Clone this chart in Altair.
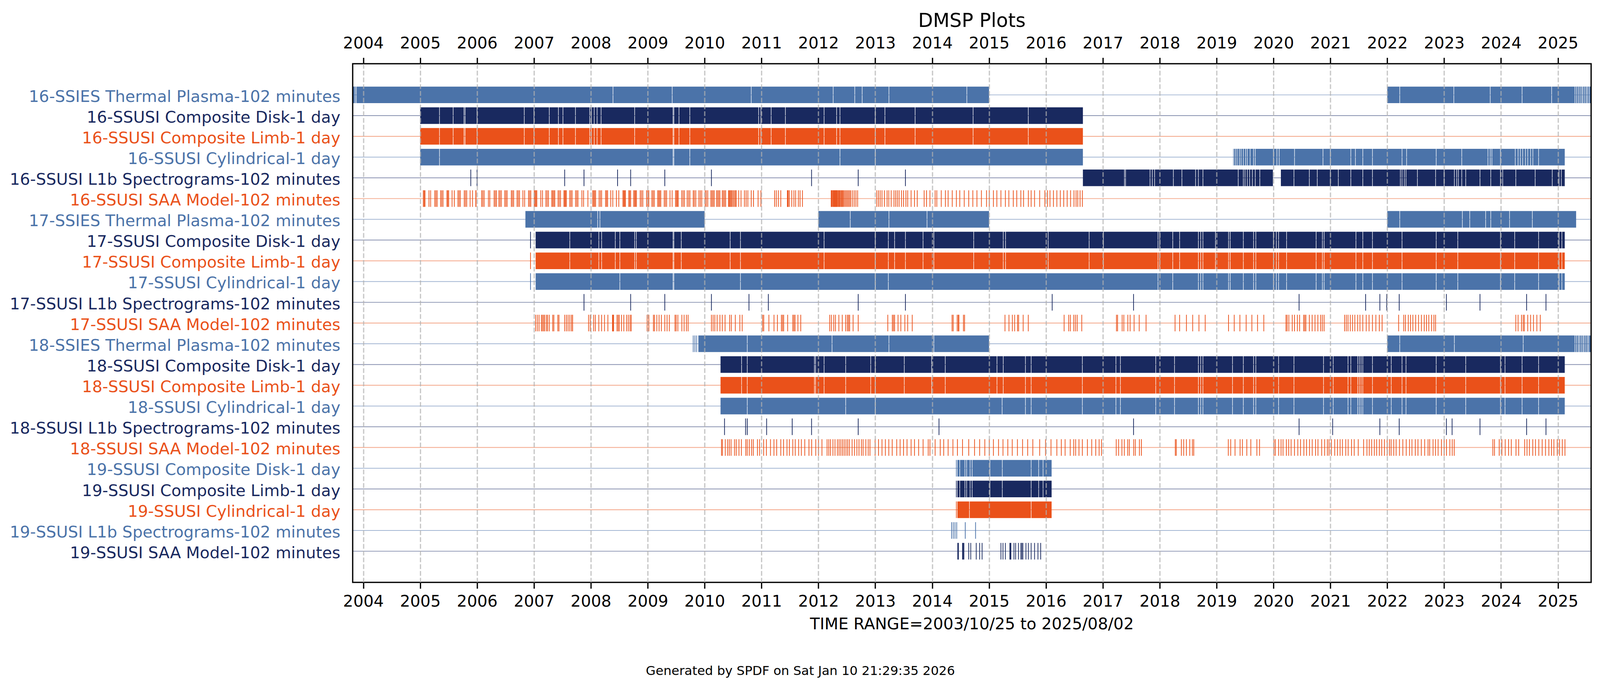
import altair as alt
import pandas as pd

# ---------------- data (decimal years) ----------------
X_START, X_END = 2003.8137, 2025.5836
YEARS = list(range(2004, 2026))

ROW_NAMES = [
    "16-SSIES Thermal Plasma-102 minutes",
    "16-SSUSI Composite Disk-1 day",
    "16-SSUSI Composite Limb-1 day",
    "16-SSUSI Cylindrical-1 day",
    "16-SSUSI L1b Spectrograms-102 minutes",
    "16-SSUSI SAA Model-102 minutes",
    "17-SSIES Thermal Plasma-102 minutes",
    "17-SSUSI Composite Disk-1 day",
    "17-SSUSI Composite Limb-1 day",
    "17-SSUSI Cylindrical-1 day",
    "17-SSUSI L1b Spectrograms-102 minutes",
    "17-SSUSI SAA Model-102 minutes",
    "18-SSIES Thermal Plasma-102 minutes",
    "18-SSUSI Composite Disk-1 day",
    "18-SSUSI Composite Limb-1 day",
    "18-SSUSI Cylindrical-1 day",
    "18-SSUSI L1b Spectrograms-102 minutes",
    "18-SSUSI SAA Model-102 minutes",
    "19-SSUSI Composite Disk-1 day",
    "19-SSUSI Composite Limb-1 day",
    "19-SSUSI Cylindrical-1 day",
    "19-SSUSI L1b Spectrograms-102 minutes",
    "19-SSUSI SAA Model-102 minutes",
]

BAR_COLORS = ["#4b73a9", "#19295f", "#ea511a"]
LINE_COLORS = ["#a3b6d3", "#8891b0", "#f4a688"]

G_16DISK = [2005.34, 2005.58, 2005.77, 2005.79, 2006.0, 2006.83, 2007.0, 2007.27, 2007.43,
            2007.51, 2007.73, 2007.98, 2008.01, 2008.06, 2008.11, 2008.18, 2008.77, 2009.445,
            2009.46, 2009.55, 2009.74, 2010.95, 2010.99, 2011.17, 2011.42, 2012.10, 2012.32,
            2012.38, 2013.0, 2013.17, 2013.70, 2014.72, 2015.69]
G_17DISK = [2007.63, 2008.14, 2008.19, 2008.43, 2008.51, 2008.77, 2008.80, 2009.445, 2009.46,
            2009.59, 2010.45, 2010.63, 2012.10, 2013.0, 2013.23, 2013.34, 2013.53, 2013.84,
            2014.03, 2014.73, 2015.25, 2015.29, 2016.04, 2016.76, 2017.01, 2017.97, 2018.0,
            2018.23, 2018.35, 2018.68, 2018.72, 2018.76, 2018.98, 2019.21, 2019.24, 2019.47,
            2019.65, 2019.69, 2020.0, 2020.05, 2020.09, 2020.23, 2020.75, 2020.86, 2020.89,
            2021.45, 2021.57, 2021.74, 2022.26, 2022.86, 2023.24, 2023.99, 2024.24, 2024.66,
            2025.02, 2025.07]
G_17CYL = [2008.51, 2009.445, 2009.46, 2010.63, 2013.0, 2013.23, 2017.97, 2018.23, 2018.68,
           2018.72, 2018.76, 2019.21, 2019.24, 2019.47, 2019.65, 2019.69, 2020.0, 2020.05,
           2020.09, 2020.23, 2020.75, 2020.86, 2020.89, 2021.45, 2021.57, 2021.74, 2022.26,
           2022.86, 2023.24, 2023.99, 2024.24, 2024.66, 2025.02, 2025.07]
G_18DISK = [2010.65, 2010.75, 2011.93, 2011.95, 2012.10, 2012.48, 2012.92, 2013.0, 2013.51,
            2013.99, 2014.23, 2015.14, 2015.25, 2015.64, 2015.74, 2016.64, 2017.23, 2017.31,
            2017.93, 2018.26, 2018.68, 2018.72, 2018.76, 2019.28, 2019.47, 2019.65, 2019.69,
            2020.09, 2020.36, 2020.88, 2021.05, 2021.31, 2021.36, 2021.48, 2021.51, 2021.54,
            2021.57, 2021.74, 2022.07, 2022.26, 2022.33, 2022.86, 2023.38, 2023.99, 2024.07,
            2024.37, 2024.66]
G_18CYL = [2010.75, 2012.48, 2013.0, 2015.23, 2015.64, 2015.74, 2016.64, 2017.23, 2017.31,
           2017.93, 2018.26, 2018.68, 2018.72, 2018.76, 2019.28, 2019.47, 2019.65, 2019.69,
           2020.09, 2020.36, 2020.88, 2021.05, 2021.31, 2021.36, 2021.48, 2021.51, 2021.54,
           2021.57, 2021.74, 2022.07, 2022.26, 2022.33, 2022.86, 2023.38, 2023.99, 2024.07,
           2024.37, 2024.66]
G_19DISK = [2014.485, 2014.576, 2014.606, 2014.667, 2014.703, 2015.016, 2015.233, 2015.740,
            2015.872, 2015.950]

SPANS = [
    [[X_START, 2015.0], [2022.0, X_END]],
    [[2005.0, 2016.65]],
    [[2005.0, 2016.65]],
    [[2005.0, 2016.65], [2019.29, 2025.12]],
    [[2016.65, 2019.99], [2020.13, 2025.12]],
    [],
    [[2006.85, 2010.0], [2012.0, 2015.0], [2022.0, 2025.32]],
    [[2007.03, 2025.12]],
    [[2007.03, 2025.12]],
    [[2007.03, 2025.12]],
    [],
    [],
    [[2009.89, 2015.0], [2022.0, X_END]],
    [[2010.28, 2025.12]],
    [[2010.28, 2025.12]],
    [[2010.28, 2025.12]],
    [],
    [],
    [[2014.444, 2016.10]],
    [[2014.444, 2016.10]],
    [[2014.444, 2016.10]],
    [],
    [],
]

GAPS = [
    [2003.855, 2003.878, 2008.39, 2009.43, 2010.82, 2012.26, 2012.64, 2012.77, 2013.24, 2014.61,
     2022.22, 2023.17, 2023.81, 2024.37, 2024.89, 2025.30, 2025.33, 2025.36, 2025.39, 2025.42,
     2025.44, 2025.47, 2025.50, 2025.52, 2025.55],
    G_16DISK,
    G_16DISK,
    [2005.34, 2009.445, 2009.46, 2009.74, 2012.38, 2013.0, 2019.30, 2019.33, 2019.36, 2019.40,
     2019.43, 2019.47, 2019.51, 2019.54, 2019.59, 2019.65, 2019.68, 2020.0, 2020.06, 2020.10,
     2020.37, 2020.87, 2021.0, 2021.36, 2021.44, 2021.57, 2021.74, 2022.26, 2022.34, 2022.86,
     2023.31, 2023.77, 2023.81, 2023.84, 2023.99, 2024.25, 2024.30, 2024.34, 2024.38, 2024.43,
     2024.47, 2024.52, 2024.56, 2024.66],
    [2017.38, 2017.40, 2017.83, 2017.87, 2017.91, 2018.24, 2018.39, 2018.63, 2018.68, 2018.76,
     2019.38, 2019.47, 2019.50, 2019.54, 2019.58, 2019.63, 2019.68, 2019.76, 2020.36, 2020.63,
     2020.77, 2021.0, 2021.14, 2021.36, 2021.57, 2021.74, 2022.23, 2022.26, 2022.30, 2022.33,
     2022.53, 2022.85, 2023.0, 2023.18, 2023.22, 2023.25, 2023.31, 2023.38, 2023.63, 2023.82,
     2023.99, 2024.03, 2024.26, 2024.60, 2024.90, 2025.02, 2025.06],
    [],
    [2008.12, 2008.16, 2012.56, 2013.24, 2013.91, 2022.22, 2023.32, 2023.45, 2023.73, 2023.82,
     2024.15, 2024.55],
    G_17DISK,
    G_17DISK,
    G_17CYL,
    [],
    [],
    [2010.75, 2012.24, 2013.24, 2014.03, 2022.22, 2023.18, 2024.39, 2025.30, 2025.33, 2025.36,
     2025.38, 2025.41, 2025.44, 2025.46, 2025.49, 2025.52, 2025.54],
    G_18DISK,
    G_18DISK,
    G_18CYL,
    [],
    [],
    G_19DISK,
    G_19DISK,
    [2014.655, 2015.740],
    [],
    [],
]

T_16SAA = [
    2005.055, 2005.070, 2005.085, 2005.155, 2005.184, 2005.257, 2005.278, 2005.299,
    2005.359, 2005.380, 2005.402, 2005.471, 2005.486, 2005.501, 2005.561, 2005.600,
    2005.664, 2005.685, 2005.706, 2005.775, 2005.796, 2005.818, 2005.878, 2005.920,
    2005.978, 2005.982, 2006.080, 2006.102, 2006.125, 2006.200, 2006.224, 2006.300,
    2006.321, 2006.342, 2006.384, 2006.405, 2006.427, 2006.487, 2006.508, 2006.529,
    2006.602, 2006.622, 2006.643, 2006.703, 2006.724, 2006.746, 2006.806, 2006.837,
    2006.905, 2006.925, 2006.945, 2007.005, 2007.020, 2007.036, 2007.051, 2007.120,
    2007.150, 2007.210, 2007.232, 2007.255, 2007.313, 2007.331, 2007.349, 2007.367,
    2007.424, 2007.445, 2007.467, 2007.527, 2007.541, 2007.555, 2007.569, 2007.629,
    2007.650, 2007.671, 2007.732, 2007.753, 2007.774, 2007.843, 2007.873, 2007.949,
    2008.033, 2008.050, 2008.067, 2008.084, 2008.145, 2008.168, 2008.190, 2008.259,
    2008.277, 2008.295, 2008.350, 2008.386, 2008.449, 2008.492, 2008.564, 2008.579,
    2008.594, 2008.609, 2008.666, 2008.683, 2008.700, 2008.754, 2008.770, 2008.786,
    2008.802, 2008.868, 2008.891, 2008.914, 2008.980, 2009.000, 2009.019, 2009.073,
    2009.094, 2009.115, 2009.176, 2009.194, 2009.212, 2009.230, 2009.290, 2009.311,
    2009.332, 2009.392, 2009.429, 2009.489, 2009.505, 2009.521, 2009.537, 2009.598,
    2009.622, 2009.646, 2009.694, 2009.718, 2009.742, 2009.800, 2009.820, 2009.845,
    2009.900, 2009.925, 2009.950, 2010.010, 2010.030, 2010.055, 2010.110, 2010.130,
    2010.150, 2010.170, 2010.210, 2010.230, 2010.250, 2010.270, 2010.310, 2010.330,
    2010.350, 2010.370, 2010.420, 2010.435, 2010.450, 2010.465, 2010.480, 2010.500,
    2010.520, 2010.540, 2010.555, 2010.600, 2010.640, 2010.700, 2010.730, 2010.760,
    2010.820, 2010.860, 2010.940, 2010.990,
    2011.231, 2011.261, 2011.297, 2011.339, 2011.455, 2011.462, 2011.470, 2011.490,
    2011.532, 2011.570, 2011.600, 2011.648, 2011.678, 2011.720,
    2012.225, 2012.235, 2012.245, 2012.260, 2012.270, 2012.280, 2012.290, 2012.300,
    2012.310, 2012.320, 2012.330, 2012.345, 2012.355, 2012.370, 2012.380, 2012.395,
    2012.410, 2012.420, 2012.435, 2012.450, 2012.470, 2012.490, 2012.510, 2012.530,
    2012.550, 2012.570, 2012.600, 2012.630, 2012.660, 2012.690,
    2013.027, 2013.057, 2013.087, 2013.118, 2013.160, 2013.208, 2013.238, 2013.280,
    2013.329, 2013.359, 2013.389, 2013.419, 2013.461, 2013.497, 2013.539, 2013.570,
    2013.630, 2013.690, 2013.738, 2013.859, 2013.901, 2013.961, 2014.052, 2014.082,
    2014.160, 2014.233, 2014.281, 2014.353, 2014.426, 2014.486, 2014.564, 2014.643,
    2014.715, 2014.787, 2014.866, 2014.956, 2015.004, 2015.077, 2015.137, 2015.209,
    2015.287, 2015.348, 2015.426, 2015.487, 2015.559, 2015.607, 2015.691, 2015.740,
    2015.800, 2015.890, 2015.981, 2016.029, 2016.071, 2016.132, 2016.192, 2016.253,
    2016.313, 2016.373, 2016.433, 2016.493, 2016.530, 2016.560, 2016.600, 2016.640,
]

T_17SAA = [
    2007.03, 2007.06, 2007.09, 2007.13, 2007.15, 2007.17, 2007.19, 2007.22, 2007.24,
    2007.27, 2007.33, 2007.35, 2007.42, 2007.44, 2007.54, 2007.57, 2007.60, 2007.63,
    2007.66, 2007.68,
    2007.96, 2007.99, 2008.05, 2008.08, 2008.14, 2008.19, 2008.24, 2008.30, 2008.38,
    2008.39, 2008.40, 2008.46, 2008.48, 2008.50, 2008.54, 2008.58, 2008.63, 2008.66,
    2008.69, 2008.71,
    2008.99, 2009.02, 2009.10, 2009.12, 2009.16, 2009.20, 2009.24, 2009.30, 2009.34,
    2009.38, 2009.48, 2009.50, 2009.53, 2009.60, 2009.64, 2009.68, 2009.71,
    2010.12, 2010.15, 2010.18, 2010.22, 2010.27, 2010.31, 2010.36, 2010.44, 2010.47,
    2010.54, 2010.62, 2010.66,
    2011.02, 2011.04, 2011.13, 2011.22, 2011.28, 2011.35, 2011.37, 2011.39, 2011.46,
    2011.55, 2011.57, 2011.59, 2011.64, 2011.69,
    2012.20, 2012.23, 2012.27, 2012.30, 2012.36, 2012.42, 2012.48, 2012.51, 2012.53,
    2012.55, 2012.61, 2012.70,
    2013.22, 2013.30, 2013.32, 2013.34, 2013.40, 2013.45, 2013.52, 2013.57, 2013.65,
    2014.35, 2014.37, 2014.44, 2014.46, 2014.47, 2014.55, 2014.57,
    2015.28, 2015.35, 2015.41, 2015.45, 2015.50, 2015.52, 2015.60, 2015.69,
    2016.32, 2016.40, 2016.43, 2016.49, 2016.52, 2016.55, 2016.63,
    2017.24, 2017.26, 2017.34, 2017.37, 2017.44, 2017.48, 2017.55, 2017.64, 2017.76,
    2018.27, 2018.35, 2018.47, 2018.58, 2018.69, 2018.80,
    2019.21, 2019.31, 2019.41, 2019.52, 2019.62, 2019.72, 2019.83,
    2020.22, 2020.24, 2020.27, 2020.33, 2020.37, 2020.42, 2020.46, 2020.53, 2020.55,
    2020.57, 2020.63, 2020.68, 2020.73, 2020.78, 2020.83, 2020.86, 2020.89,
    2021.25, 2021.28, 2021.31, 2021.35, 2021.39, 2021.43, 2021.48, 2021.52, 2021.57,
    2021.63, 2021.68, 2021.74, 2021.80, 2021.86, 2021.91,
    2022.20, 2022.29, 2022.32, 2022.37, 2022.41, 2022.45, 2022.50, 2022.55, 2022.60,
    2022.65, 2022.69, 2022.73, 2022.78, 2022.82, 2022.85,
    2024.26, 2024.30, 2024.36, 2024.39, 2024.41, 2024.47, 2024.52, 2024.57, 2024.63,
    2024.69,
]

T_18SAA = [
    2010.297, 2010.315, 2010.363, 2010.405, 2010.435, 2010.465, 2010.526, 2010.556,
    2010.604, 2010.646, 2010.724, 2010.749, 2010.785, 2010.827, 2010.857, 2010.929,
    2010.966, 2011.038, 2011.086, 2011.158, 2011.219, 2011.267, 2011.339, 2011.388,
    2011.448, 2011.490, 2011.550, 2011.593, 2011.653, 2011.701, 2011.761, 2011.834,
    2011.882, 2011.954, 2012.002, 2012.063, 2012.153, 2012.183, 2012.213, 2012.256,
    2012.292, 2012.334, 2012.364, 2012.394, 2012.424, 2012.454, 2012.485, 2012.515,
    2012.545, 2012.593, 2012.635, 2012.677, 2012.714, 2012.756, 2012.786, 2012.834,
    2012.876, 2012.907, 2012.997, 2013.057, 2013.118, 2013.178, 2013.238, 2013.298,
    2013.377, 2013.437, 2013.497, 2013.558, 2013.630, 2013.690, 2013.762, 2013.841,
    2013.931, 2013.961, 2014.052, 2014.142, 2014.203, 2014.281, 2014.365, 2014.444,
    2014.534, 2014.643, 2014.745, 2014.835, 2014.926, 2015.004, 2015.077, 2015.167,
    2015.245, 2015.330, 2015.408, 2015.499, 2015.589, 2015.679, 2015.770, 2015.890,
    2015.993, 2016.089, 2016.192, 2016.270, 2016.337, 2016.427, 2016.488, 2016.522,
    2016.581, 2016.640, 2016.729, 2016.805, 2016.876, 2016.935, 2016.976,
    2017.236, 2017.277, 2017.336, 2017.378, 2017.437, 2017.466, 2017.543, 2017.572,
    2017.643, 2017.678,
    2018.274, 2018.292, 2018.381, 2018.422, 2018.469, 2018.528, 2018.575, 2018.599,
    2019.206, 2019.248, 2019.324, 2019.413, 2019.454, 2019.531, 2019.602, 2019.708,
    2019.755,
    2020.009, 2020.032, 2020.091, 2020.133, 2020.168, 2020.227, 2020.268, 2020.310,
    2020.369, 2020.428, 2020.475, 2020.534, 2020.581, 2020.634, 2020.681, 2020.740,
    2020.782, 2020.847, 2020.900, 2020.947, 2020.976, 2021.018, 2021.077, 2021.124,
    2021.171, 2021.212, 2021.271, 2021.313, 2021.372, 2021.419, 2021.490, 2021.584,
    2021.643, 2021.684, 2021.726, 2021.773, 2021.814, 2021.861, 2021.903, 2021.950,
    2021.997, 2022.038, 2022.068, 2022.115, 2022.156, 2022.215, 2022.274, 2022.333,
    2022.392, 2022.434, 2022.493, 2022.540, 2022.599, 2022.658, 2022.717, 2022.746,
    2022.805, 2022.847, 2022.894, 2022.953, 2023.000, 2023.041, 2023.100, 2023.142,
    2023.177,
    2023.856, 2023.885, 2023.968, 2024.015, 2024.074, 2024.133, 2024.180, 2024.263,
    2024.310, 2024.416, 2024.457, 2024.499, 2024.558, 2024.605, 2024.664, 2024.723,
    2024.782, 2024.841, 2024.888, 2024.929, 2024.988, 2025.029, 2025.077, 2025.124,
]

T_19SAA = [
    2014.450, 2014.456, 2014.462, 2014.534, 2014.546, 2014.558, 2014.643, 2014.679,
    2014.775, 2014.835, 2014.878, 2015.209, 2015.245, 2015.287, 2015.366, 2015.375,
    2015.384, 2015.438, 2015.468, 2015.517, 2015.559, 2015.577, 2015.595, 2015.649,
    2015.691, 2015.740, 2015.800, 2015.860, 2015.908,
]

TICKS = [
    [],
    [],
    [],
    [],
    [2005.89, 2006.0, 2007.54, 2007.88, 2008.47, 2008.70, 2009.30, 2010.12, 2011.88,
     2012.70, 2013.53],
    T_16SAA,
    [],
    [2006.94],
    [2006.94],
    [2006.94],
    [2007.88, 2008.70, 2009.30, 2010.12, 2010.78, 2011.12, 2012.70, 2013.53, 2016.11,
     2017.54, 2020.45, 2021.62, 2021.87, 2021.99, 2022.21, 2023.04, 2023.63, 2024.45,
     2024.79],
    T_17SAA,
    [2009.80, 2009.83, 2009.86],
    [],
    [],
    [],
    [2010.35, 2010.72, 2010.75, 2011.09, 2011.54, 2011.88, 2012.70, 2014.12, 2017.54,
     2020.45, 2021.04, 2021.87, 2022.21, 2023.04, 2023.14, 2023.63, 2024.45, 2024.79],
    T_18SAA,
    [2014.426],
    [2014.426],
    [2014.426],
    [2014.341, 2014.371, 2014.401, 2014.432, 2014.582, 2014.763],
    T_19SAA,
]

TITLE = "DMSP Plots"
X_TITLE = "TIME RANGE=2003/10/25 to 2025/08/02"
FOOTER = "Generated by SPDF on Sat Jan 10 21:29:35 2026"

# ---------------- build tables ----------------
GAP_HALF = 0.0045
BAR_HALF = 0.4

row_rows, bar_rows, tick_rows = [], [], []
for i, name in enumerate(ROW_NAMES):
    r = i + 1
    c = BAR_COLORS[i % 3]
    row_rows.append({"row": r, "name": name, "color": c, "lcolor": LINE_COLORS[i % 3]})
    for a, b in SPANS[i]:
        cur = a
        for g in sorted(GAPS[i]):
            if a < g < b:
                if g - GAP_HALF > cur:
                    bar_rows.append({"start": cur, "end": g - GAP_HALF,
                                     "y0": r - BAR_HALF, "y1": r + BAR_HALF, "color": c})
                cur = g + GAP_HALF
        if b > cur:
            bar_rows.append({"start": cur, "end": b,
                             "y0": r - BAR_HALF, "y1": r + BAR_HALF, "color": c})
    for t in TICKS[i]:
        tick_rows.append({"t": t, "y0": r - BAR_HALF, "y1": r + BAR_HALF, "color": c})

rows_df = pd.DataFrame(row_rows)
bars_df = pd.DataFrame(bar_rows)
ticks_df = pd.DataFrame(tick_rows)
one_df = pd.DataFrame({"k": [0]})

W, H = 3224, 1350
FONT = "DejaVu Sans"
FS = 41.7

xs = alt.Scale(domain=[X_START, X_END], nice=False, zero=False)
ys = alt.Scale(domain=[-0.5, 24.5], reverse=True, nice=False, zero=False)

x_bottom = alt.Axis(orient="bottom", values=YEARS, format="d", grid=True,
                    gridColor="#b0b0b0", gridOpacity=0.7, gridDash=[12.3, 5.3], gridWidth=3.3,
                    domain=False, ticks=True, tickSize=16, tickWidth=3.3, tickColor="black",
                    labelFont=FONT, labelFontSize=FS, labelColor="black", labelPadding=14,
                    labelFlush=False, labelOverlap=False, title=None, zindex=1)
x_top = alt.Axis(orient="top", values=YEARS, format="d", grid=False,
                 domain=False, ticks=True, tickSize=16, tickWidth=3.3, tickColor="black",
                 labelFont=FONT, labelFontSize=FS, labelColor="black", labelPadding=15,
                 labelFlush=False, labelOverlap=False, title=None)
y_axis = alt.Axis(values=list(range(1, 24)), labels=False, ticks=True, tickSize=16,
                  tickWidth=3.3, tickColor="black", domain=False, grid=False, title=None)

baselines = alt.Chart(rows_df).mark_rule(strokeWidth=2).encode(
    y=alt.Y("row:Q", scale=ys, axis=None),
    x=alt.value(0), x2=alt.value(W),
    color=alt.Color("lcolor:N", scale=None),
)

bars = alt.Chart(bars_df).mark_rect().encode(
    x=alt.X("start:Q", scale=xs, axis=x_bottom),
    x2="end:Q",
    y=alt.Y("y0:Q", scale=ys, axis=y_axis),
    y2="y1:Q",
    color=alt.Color("color:N", scale=None),
)

ticks = alt.Chart(ticks_df).mark_rule(strokeWidth=1.9).encode(
    x=alt.X("t:Q", scale=xs, axis=x_top),
    y=alt.Y("y0:Q", scale=ys, axis=None),
    y2="y1:Q",
    color=alt.Color("color:N", scale=None),
)

labels = alt.Chart(rows_df).mark_text(align="right", baseline="alphabetic", dy=18,
                                      font=FONT, fontSize=FS).encode(
    y=alt.Y("row:Q", scale=ys, axis=None),
    x=alt.value(-32),
    text="name:N",
    color=alt.Color("color:N", scale=None),
)

frame = alt.Chart(one_df).mark_rect(filled=False, stroke="black", strokeWidth=3.3).encode(
    x=alt.value(0), x2=alt.value(W), y=alt.value(0), y2=alt.value(H),
)

title_t = alt.Chart(one_df).mark_text(align="center", baseline="alphabetic", font=FONT,
                                      fontSize=50, color="black", text=TITLE).encode(
    x=alt.value(W / 2), y=alt.value(-96))
xtitle_t = alt.Chart(one_df).mark_text(align="center", baseline="alphabetic", font=FONT,
                                       fontSize=FS, color="black", text=X_TITLE).encode(
    x=alt.value(W / 2), y=alt.value(1472))
footer_t = alt.Chart(one_df).mark_text(align="center", baseline="alphabetic", font=FONT,
                                       fontSize=33, color="black", text=FOOTER).encode(
    x=alt.value(1165.5), y=alt.value(1591))

chart = alt.layer(
    baselines, bars, ticks, labels, frame, title_t, xtitle_t, footer_t
).resolve_axis(x="independent").properties(
    width=W, height=H,
    autosize=alt.AutoSizeParams(type="none"),
    padding={"left": 910, "top": 143, "right": 15, "bottom": 262},
    background="white",
).configure_view(stroke=None)

chart.save("out.html", embed_options={"renderer": "svg", "actions": False})
